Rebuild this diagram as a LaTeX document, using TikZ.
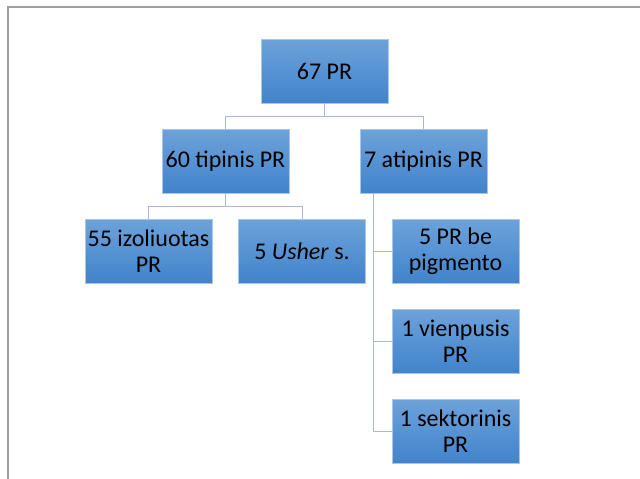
\documentclass[tikz,border=0pt]{standalone}
\usepackage{fontspec}
\setmainfont{Carlito}
\usetikzlibrary{calc}
\definecolor{boxtop}{HTML}{6DA2DA}
\definecolor{boxbot}{HTML}{4183CB}
\definecolor{boxline}{HTML}{A9C6E8}
\definecolor{linkcol}{HTML}{A8B8D8}
\definecolor{framecol}{HTML}{9E9E9E}
\tikzset{
  pbox/.style={rectangle, draw=boxline, line width=0.8pt,
    top color=boxtop, bottom color=boxbot,
    minimum width=127pt, minimum height=64pt, inner sep=1pt,
    align=center, text=black,
    font=\fontsize{24pt}{26pt}\selectfont},
  link/.style={draw=linkcol, line width=1pt},
}
\begin{document}
\begin{tikzpicture}[x=1pt, y=-1pt]
  \useasboundingbox (0,0) rectangle (640,479);
  % outer frame (top and left edges)
  \draw[framecol, line width=1.2pt] (640,7) -- (8,7) -- (8,479);

  % boxes
  \node[pbox] (root) at (324.5,71) {67 PR};
  \node[pbox] (t60) at (225.5,161) {60 tipinis PR};
  \node[pbox] (a7) at (423.5,161) {7 atipinis PR};
  \node[pbox] (i55) at (148.5,251) {55 izoliuotas\\PR};
  \node[pbox] (ush) at (302,251) {5 \textit{Usher} s.};
  \node[pbox] (pb) at (455.5,251) {5 PR be\\pigmento};
  \node[pbox] (v1) at (455.5,341.5) {1 vienpusis\\PR};
  \node[pbox] (s1) at (455.5,431.5) {1 sektorinis\\PR};

  % connectors
  \coordinate (rbus) at (324.5,116);
  \draw[link] (root.south) -- (rbus);
  \draw[link] (rbus) -| (t60.north);
  \draw[link] (rbus) -| (a7.north);

  \coordinate (tbus) at (225.5,206);
  \draw[link] (t60.south) -- (tbus);
  \draw[link] (tbus) -| (i55.north);
  \draw[link] (tbus) -| (ush.north);

  \coordinate (atrunk) at (373,193);
  \draw[link] (atrunk) |- (s1.west);
  \draw[link] (atrunk) |- (v1.west);
  \draw[link] (atrunk) |- (pb.west);
\end{tikzpicture}
\end{document}
